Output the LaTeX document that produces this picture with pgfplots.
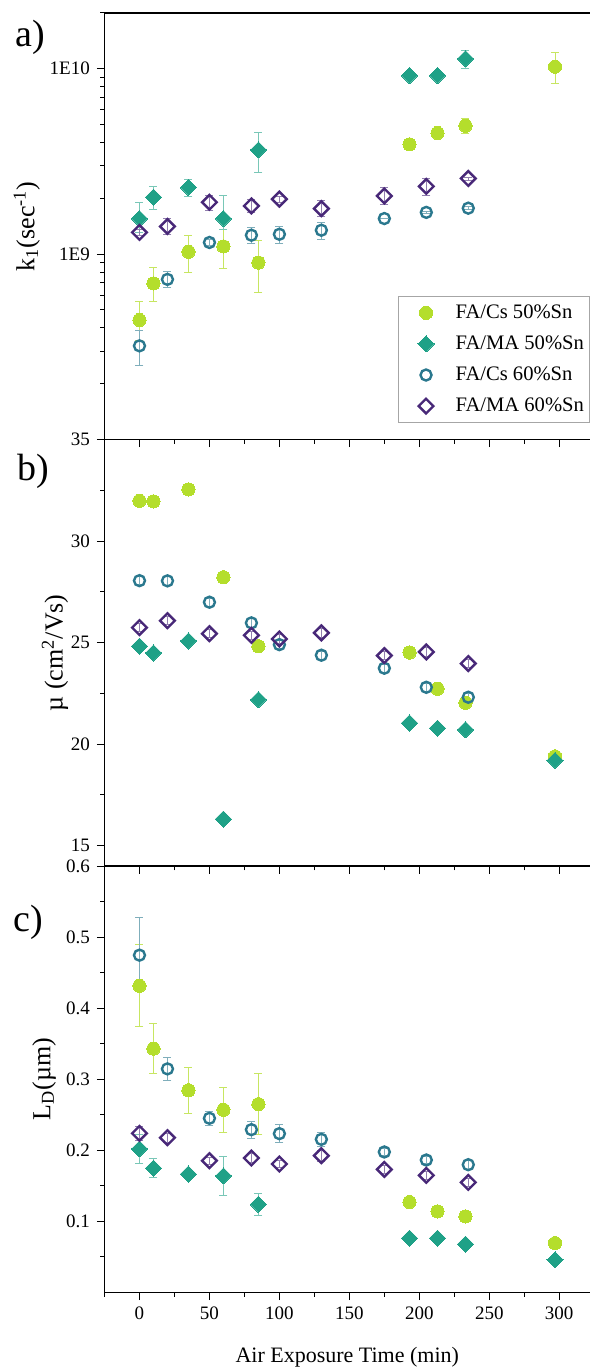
\documentclass[border=0pt]{standalone}
\usepackage{fontspec}
\setmainfont{Liberation Serif}
\usepackage{pgfplots}
\pgfplotsset{compat=1.18}
\definecolor{cA}{HTML}{B4DE2C}
\definecolor{cB}{HTML}{1FA187}
\definecolor{cC}{HTML}{2A788E}
\definecolor{cD}{HTML}{482878}
\pgfplotsset{
  panel/.style={
    width=242.75pt, height=213.25pt, scale only axis,
    xmin=-25, xmax=322,
    separate axis lines,
    axis x line*=box, axis y line*=left,
    tick pos=left,
    tick align=outside,
    xtick={0,50,...,300},
    minor xtick={-25,25,75,125,175,225,275},
    major tick length=3.8pt, minor tick length=2.2pt,
    axis line style={line width=0.9pt},
    every tick/.style={black, line width=0.5pt},
    /pgf/number format/assume math mode=true,
    tick label style={font=\fontsize{9.5}{10}\selectfont},
    ylabel style={font=\fontsize{13}{14}\selectfont, anchor=center},
    clip=false,
    error bars/y dir=both, error bars/y explicit,
    error bars/error mark options={rotate=90, mark size=2pt, line width=0.4pt},
    legend image code/.code={\path (0cm,0cm) (0.88cm,0cm);
      \draw[#1] plot coordinates {(0.44cm,0cm)};},
  },
  sA/.style={only marks, mark=*, mark size=3.3pt, color=cA,
    mark options={draw=cA, fill=cA, line width=0pt},
    error bars/error bar style={cA!75, line width=0.4pt}},
  sB/.style={only marks, mark=square*, mark size=2.85pt, color=cB,
    mark options={draw=cB, fill=cB, rotate=45, line width=0pt},
    error bars/error bar style={cB!60, line width=0.4pt}},
  sC/.style={only marks, mark=o, mark size=2.75pt, color=cC,
    mark options={draw=cC, line width=1.2pt},
    error bars/error bar style={cC!60, line width=0.4pt}},
  sD/.style={only marks, mark=square, mark size=2.6pt, color=cD,
    mark options={draw=cD, rotate=45, line width=1.2pt},
    error bars/error bar style={cD!60, line width=0.4pt}},
}
\begin{document}
\begin{tikzpicture}
\path[use as bounding box] (-52.25pt,6.5pt) rectangle (242.75pt,-679pt);
% ---------------- panel a ----------------
\begin{axis}[panel, at={(0pt,0pt)}, anchor=north west,
  ymode=log, ymin=1e8, ymax=2e10,
  ytick={1e9,1e10}, yticklabels={1E9,1E10},
  minor ytick={2e8,3e8,4e8,5e8,6e8,7e8,8e8,9e8,2e9,3e9,4e9,5e9,6e9,7e9,8e9,9e9,2e10},
  xticklabels={},
  ylabel={k\textsubscript{1}(sec\textsuperscript{-1})},
  ylabel style={at={(axis description cs:-0.16,0.5)}},
  legend style={at={(0.6045,0.3365)}, anchor=north west, draw=gray!70,
    line width=0.5pt, font=\fontsize{10.3}{12}\selectfont,
    row sep=3.2pt, inner xsep=1pt, inner ysep=2pt},
  legend cell align=left,
]
\addplot+[sA] coordinates {
 (0,4.41e8) += (0,1.17e8) -= (0,1.0e8)
 (10,6.95e8) += (0,1.49e8) -= (0,1.37e8)
 (35,1.03e9) += (0,2.3e8) -= (0,2.34e8)
 (60,1.10e9) += (0,2.6e8) -= (0,2.6e8)
 (85,9.0e8) += (0,2.9e8) -= (0,2.8e8)
 (193,3.91e9) += (0,0) -= (0,0)
 (213,4.50e9) += (0,0) -= (0,0)
 (233,4.93e9) += (0,4.9e8) -= (0,4.7e8)
 (297,1.026e10) += (0,1.94e9) -= (0,1.96e9)
};
\addlegendentry{FA/Cs 50\%Sn}
\addplot+[sB] coordinates {
 (0,1.556e9) += (0,3.4e8) -= (0,2.5e8)
 (10,2.03e9) += (0,2.9e8) -= (0,2.8e8)
 (35,2.29e9) += (0,2.5e8) -= (0,2.4e8)
 (60,1.556e9) += (0,5.2e8) -= (0,2.0e8)
 (85,3.65e9) += (0,9.1e8) -= (0,8.8e8)
 (193,9.2e9) += (0,0) -= (0,0)
 (213,9.2e9) += (0,0) -= (0,0)
 (233,1.133e10) += (0,1.3e9) -= (0,1.3e9)
};
\addlegendentry{FA/MA 50\%Sn}
\addplot+[sC] coordinates {
 (0,3.2e8) += (0,7e7) -= (0,6.8e7)
 (20,7.31e8) += (0,7.2e7) -= (0,7.1e7)
 (50,1.156e9) += (0,4e7) -= (0,4e7)
 (80,1.265e9) += (0,1.25e8) -= (0,1.25e8)
 (100,1.28e9) += (0,1.4e8) -= (0,1.4e8)
 (130,1.346e9) += (0,1.44e8) -= (0,1.46e8)
 (175,1.556e9) += (0,0) -= (0,0)
 (205,1.68e9) += (0,3e7) -= (0,3e7)
 (235,1.77e9) += (0,3e7) -= (0,3e7)
};
\addlegendentry{FA/Cs 60\%Sn}
\addplot+[sD] coordinates {
 (0,1.31e9) += (0,5e7) -= (0,5e7)
 (20,1.41e9) += (0,1.4e8) -= (0,1.3e8)
 (50,1.905e9) += (0,1.8e8) -= (0,1.8e8)
 (80,1.82e9) += (0,1.5e8) -= (0,1.5e8)
 (100,1.98e9) += (0,8e7) -= (0,8e7)
 (130,1.76e9) += (0,2e8) -= (0,1.7e8)
 (175,2.06e9) += (0,2.3e8) -= (0,2.1e8)
 (205,2.32e9) += (0,2.4e8) -= (0,2.4e8)
 (235,2.56e9) += (0,5e7) -= (0,5e7)
};
\addlegendentry{FA/MA 60\%Sn}
\node[font=\fontsize{19}{20}\selectfont] at (axis description cs:-0.1535,0.9437) {a)};
\end{axis}
% ---------------- panel b ----------------
\begin{axis}[panel, at={(0pt,-213.25pt)}, anchor=north west,
  ymin=14, ymax=35,
  ytick={15,20,25,30,35},
  minor ytick={17.5,22.5,27.5,32.5},
  xticklabels={},
  ylabel={µ (cm\textsuperscript{2}/Vs)},
  ylabel style={at={(axis description cs:-0.102,0.5)}},
]
\addplot+[sA] coordinates {
 (0,31.98) +- (0,0.1) (10,31.95) +- (0,0.1) (35,32.54) +- (0,0.1)
 (60,28.22) +- (0,0.1) (85,24.82) +- (0,0.1) (193,24.51) +- (0,0.1)
 (213,22.73) +- (0,0.1) (233,22.04) +- (0,0.1) (297,19.4) +- (0,0.1)
};
\addplot+[sB] coordinates {
 (0,24.82) +- (0,0.1) (10,24.49) +- (0,0.1) (35,25.08) +- (0,0.1)
 (60,16.31) +- (0,0.1) (85,22.19) +- (0,0.1) (193,21.04) +- (0,0.1)
 (213,20.79) +- (0,0.1) (233,20.71) +- (0,0.1) (297,19.2) +- (0,0.1)
};
\addplot+[sC] coordinates {
 (0,28.05) +- (0,0.2) (20,28.04) +- (0,0.2) (50,26.99) +- (0,0.2)
 (80,25.97) +- (0,0.2) (100,24.9) +- (0,0.2) (130,24.38) +- (0,0.2)
 (175,23.74) +- (0,0.2) (205,22.8) +- (0,0.2) (235,22.31) +- (0,0.2)
};
\addplot+[sD] coordinates {
 (0,25.74) +- (0,0.2) (20,26.08) +- (0,0.2) (50,25.44) +- (0,0.2)
 (80,25.36) +- (0,0.2) (100,25.18) +- (0,0.2) (130,25.48) +- (0,0.2)
 (175,24.36) +- (0,0.2) (205,24.54) +- (0,0.2) (235,23.97) +- (0,0.2)
};
\node[font=\fontsize{19}{20}\selectfont] at (axis description cs:-0.147,0.926) {b)};
\end{axis}
% ---------------- panel c ----------------
\begin{axis}[panel, at={(0pt,-426.5pt)}, anchor=north west,
  ymin=0, ymax=0.6,
  ytick={0.1,0.2,0.3,0.4,0.5,0.6},
  yticklabels={0.1,0.2,0.3,0.4,0.5,0.6},
  minor ytick={0.05,0.15,0.25,0.35,0.45,0.55},
  ylabel={L\textsubscript{D}(µm)},
  ylabel style={at={(axis description cs:-0.1246,0.5)}},
  xlabel={Air Exposure Time (min)},
  xlabel style={font=\fontsize{11}{12}\selectfont, at={(axis description cs:0.5,-0.1518)}, anchor=center},
]
\addplot+[sA] coordinates {
 (0,0.4315) += (0,0.058) -= (0,0.057)
 (10,0.343) +- (0,0.035)
 (35,0.2845) +- (0,0.032)
 (60,0.257) +- (0,0.032)
 (85,0.265) +- (0,0.043)
 (193,0.1272) +- (0,0.003)
 (213,0.1141) +- (0,0.003)
 (233,0.107) +- (0,0.003)
 (297,0.0695) +- (0,0.003)
};
\addplot+[sB] coordinates {
 (0,0.202) +- (0,0.021)
 (10,0.175) +- (0,0.013)
 (35,0.1667) +- (0,0.005)
 (60,0.164) +- (0,0.028)
 (85,0.124) +- (0,0.016)
 (193,0.0765) +- (0,0.003)
 (213,0.0765) +- (0,0.003)
 (233,0.0681) +- (0,0.003)
 (297,0.046) +- (0,0.003)
};
\addplot+[sC] coordinates {
 (0,0.4746) += (0,0.0526) -= (0,0.05)
 (20,0.3146) +- (0,0.016)
 (50,0.2451) +- (0,0.01)
 (80,0.2291) +- (0,0.012)
 (100,0.2235) +- (0,0.013)
 (130,0.2155) +- (0,0.01)
 (175,0.1977) +- (0,0.005)
 (205,0.1864) +- (0,0.005)
 (235,0.1798) +- (0,0.006)
};
\addplot+[sD] coordinates {
 (0,0.2239) +- (0,0.01)
 (20,0.2178) +- (0,0.006)
 (50,0.1854) +- (0,0.005)
 (80,0.1892) +- (0,0.006)
 (100,0.1808) +- (0,0.005)
 (130,0.1925) +- (0,0.008)
 (175,0.1732) +- (0,0.005)
 (205,0.1648) +- (0,0.005)
 (235,0.1549) +- (0,0.005)
};
\node[font=\fontsize{19}{20}\selectfont] at (axis description cs:-0.1576,0.869) {c)};
\end{axis}
\end{tikzpicture}
\end{document}
